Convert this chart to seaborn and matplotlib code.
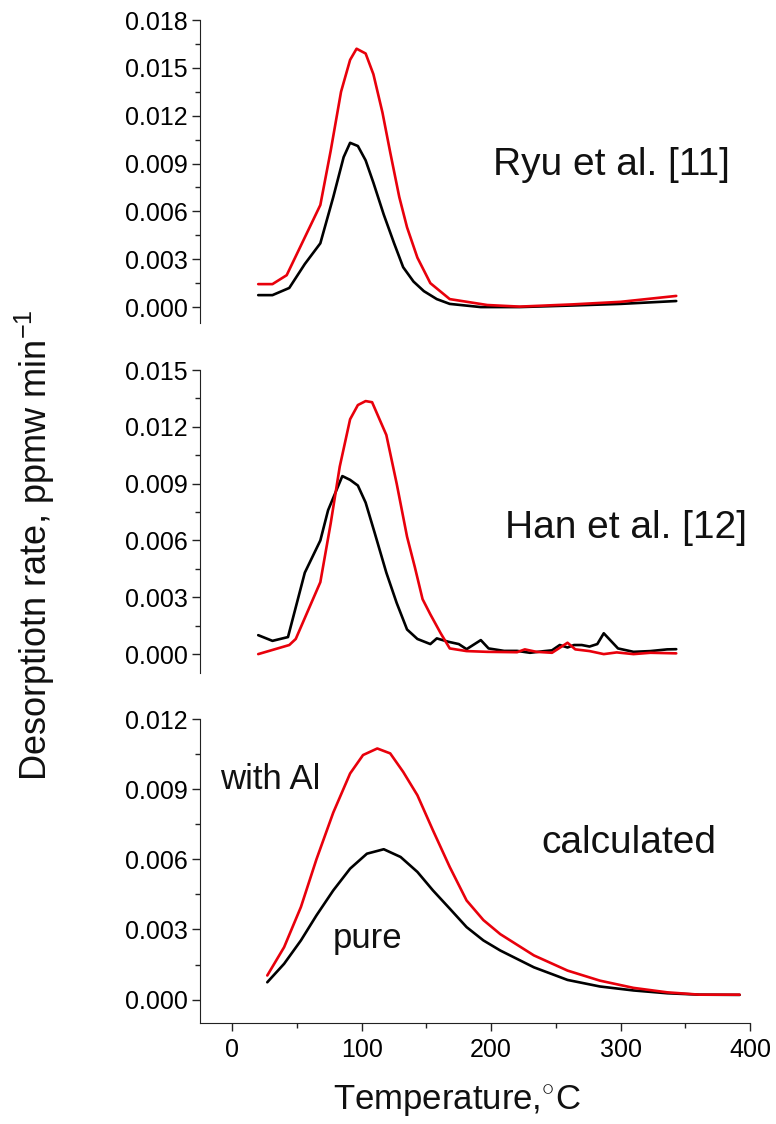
import matplotlib
matplotlib.use("Agg")
from matplotlib import pyplot as plt
from matplotlib.ticker import MultipleLocator, FormatStrFormatter
import seaborn as sns

# Ryu et al. [11]
ryu_T_red = [20, 31, 42, 55, 68, 76, 84, 91, 96, 103, 109, 116, 122, 129, 135, 143, 153, 168, 197, 222, 263, 300, 343]
ryu_red = [0.00144, 0.00144, 0.0020, 0.0042, 0.0064, 0.0098, 0.0135, 0.0155, 0.0162, 0.0159, 0.0146, 0.0122,
           0.0097, 0.0069, 0.0050, 0.0031, 0.0015, 0.0005, 0.00013, 0.00003, 0.00017, 0.00033, 0.0007]
ryu_T_black = [20, 31, 44, 56, 68, 78, 86, 91, 97, 103, 109, 117, 125, 132, 140, 148, 158, 168, 192, 222, 263, 300, 343]
ryu_black = [0.00075, 0.00075, 0.0012, 0.0027, 0.0040, 0.0069, 0.0094, 0.0103, 0.0101, 0.0092, 0.0078, 0.0058,
             0.0040, 0.0025, 0.0016, 0.0010, 0.0005, 0.0002, 0.0, 0.0, 0.0001, 0.0002, 0.00038]

# Han et al. [12]
han_T_red = [20, 44, 49, 68, 76, 83, 91, 97, 103, 108, 119, 127, 135, 141, 147, 153, 161, 168, 181, 197,
             220, 226, 235, 247, 259, 265, 276, 287, 297, 310, 323, 343]
han_red = [0.0, 0.00048, 0.0008, 0.0038, 0.0069, 0.0099, 0.0124, 0.01315, 0.01336, 0.0133, 0.01157, 0.0090,
           0.0062, 0.0046, 0.0029, 0.0021, 0.0011, 0.0003, 0.00016, 0.00012, 0.0001, 0.00025, 0.00012, 0.00007,
           0.0006, 0.00025, 0.00016, 0.0, 0.00009, 0.0, 0.00007, 0.00004]
han_T_black = [20, 31, 43, 56, 68, 74, 85, 91, 97, 103, 110, 119, 127, 135, 143, 153, 158, 167, 175, 181,
               192, 198, 210, 220, 230, 240, 247, 253, 259, 264, 270, 276, 282, 287, 298, 310, 323, 336, 343]
han_black = [0.0010, 0.0007, 0.0009, 0.0043, 0.0060, 0.0076, 0.0094, 0.0092, 0.0089, 0.0080, 0.0064, 0.0043,
             0.0027, 0.0013, 0.0008, 0.00053, 0.00083, 0.00065, 0.00053, 0.00026, 0.00074, 0.0003, 0.00017,
             0.00017, 0.00007, 0.00015, 0.0002, 0.00048, 0.00035, 0.00048, 0.00048, 0.0004, 0.00053, 0.0011,
             0.0003, 0.00012, 0.00016, 0.00025, 0.00026]

# calculated
calc_T_red = [27, 40, 53, 65, 78, 91, 101, 112, 122, 132, 143, 155, 168, 181, 194, 207, 233, 259, 284, 310, 336, 361, 392]
calc_red = [0.00103, 0.00224, 0.00396, 0.0060, 0.0080, 0.00967, 0.01046, 0.01074, 0.01053, 0.00974, 0.00874,
            0.00724, 0.00567, 0.00424, 0.0034, 0.0028, 0.00189, 0.00124, 0.00081, 0.0005, 0.00031, 0.00021, 0.00021]
calc_T_black = [27, 40, 53, 65, 78, 91, 104, 117, 130, 143, 155, 168, 181, 194, 207, 233, 259, 284, 310, 336, 361, 392]
calc_black = [0.00074, 0.00153, 0.00253, 0.0036, 0.00467, 0.0056, 0.00624, 0.00643, 0.0061, 0.00546, 0.00467,
              0.00389, 0.0031, 0.00253, 0.0021, 0.00138, 0.00084, 0.00056, 0.00039, 0.00027, 0.00021, 0.0002]

sns.set_style("ticks")
plt.rcParams["font.family"] = ["Liberation Sans", "DejaVu Sans"]
plt.rcParams["mathtext.fontset"] = "custom"
plt.rcParams["mathtext.rm"] = "Liberation Sans"
plt.rcParams["mathtext.it"] = "Liberation Sans:italic"
plt.rcParams["text.color"] = "black"
plt.rcParams["xtick.labelcolor"] = "black"
plt.rcParams["ytick.labelcolor"] = "black"

fig = plt.figure(figsize=(7.76, 11.24), dpi=100)
left, width = 0.2577, 0.7088
ax1 = fig.add_axes([left, 0.7126, width, 0.2696])
ax2 = fig.add_axes([left, 0.4012, width, 0.2696])
ax3 = fig.add_axes([left, 0.0899, width, 0.2704])

panels = [
    (ax1, ryu_T_red, ryu_red, ryu_T_black, ryu_black, 0.018),
    (ax2, han_T_red, han_red, han_T_black, han_black, 0.015),
    (ax3, calc_T_red, calc_red, calc_T_black, calc_black, 0.012),
]
edge = "#222222"
for ax, tr, yr, tb, yb, top in panels:
    sns.lineplot(x=tb, y=yb, color="black", lw=1.9, ax=ax)
    sns.lineplot(x=tr, y=yr, color="#e8000b", lw=1.9, ax=ax)
    ax.set_xlim(-25, 400)
    ax.set_ylim(-0.001, top)
    ax.yaxis.set_major_locator(MultipleLocator(0.003))
    ax.yaxis.set_minor_locator(MultipleLocator(0.0015))
    ax.yaxis.set_major_formatter(FormatStrFormatter("%.3f"))
    ax.xaxis.set_major_locator(MultipleLocator(100))
    ax.xaxis.set_minor_locator(MultipleLocator(50))
    ax.tick_params(which="both", direction="out", width=1, color=edge, labelcolor="black",
                   labelsize=18, pad=3)
    ax.tick_params(which="major", length=6)
    ax.tick_params(which="minor", length=3.5)
    for s in ["top", "right"]:
        ax.spines[s].set_visible(False)
    ax.spines["left"].set_color(edge)
    ax.spines["bottom"].set_color(edge)
    ax.set_xlabel("")
    ax.set_ylabel("")

for ax in (ax1, ax2):
    ax.spines["bottom"].set_visible(False)
    ax.tick_params(axis="x", which="both", bottom=False, labelbottom=False)
ax3.tick_params(axis="x", pad=5)

txt = "#111111"
ax1.text(201.5, 0.00828, "Ryu et al. [11]", fontsize=28, color=txt, ha="left", va="baseline")
ax2.text(210.8, 0.00613, "Han et al. [12]", fontsize=28, color=txt, ha="left", va="baseline")
ax3.text(238.6, 0.00626, "calculated", fontsize=28, color=txt, ha="left", va="baseline")
ax3.text(-9.3, 0.0090, "with Al", fontsize=25, color=txt, ha="left", va="baseline")
ax3.text(77.2, 0.00219, "pure", fontsize=25, color=txt, ha="left", va="baseline")

fig.text(35 / 776, 1 - 545 / 1124, r"Desorptiotn rate, ppmw min$^{-1}$", rotation=90,
         fontsize=26, color=txt, ha="center", va="center")
fig.text(457 / 776, 1 - 1110 / 1124, r"Temperature,$^{\circ}$C", fontsize=25, color=txt,
         ha="center", va="baseline")

fig.savefig("out.png", dpi=100)
